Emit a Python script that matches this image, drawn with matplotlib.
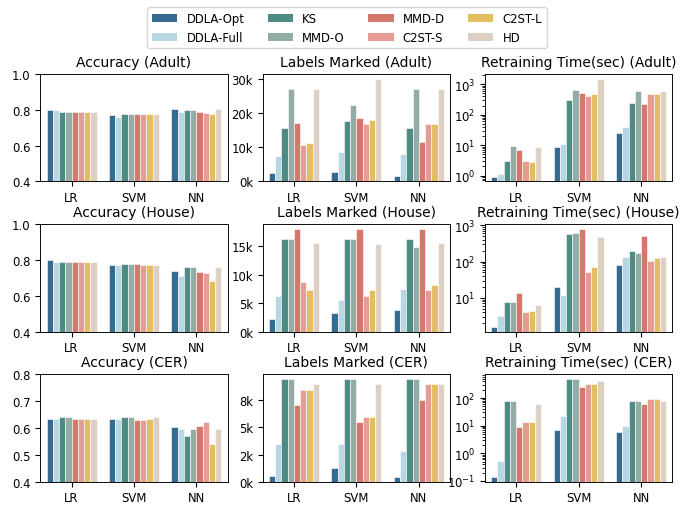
import numpy as np
import matplotlib
matplotlib.use("Agg")
from matplotlib import pyplot as plt
from matplotlib.ticker import FuncFormatter
from matplotlib.patches import Patch

# Data
methods = ['DDLA-Opt', 'DDLA-Full', 'KS', 'MMD-O', 'MMD-D', 'C2ST-S', 'C2ST-L', 'HD']
colors = ['#376a90', '#b7d8e2', '#4d8b84', '#93aca6', '#d4786d', '#e49d92', '#e2bd64', '#ddcfc2']
models = ['LR', 'SVM', 'NN']

# rows = models (LR, SVM, NN), columns = methods
acc_adult = [[0.800, 0.797, 0.787, 0.790, 0.790, 0.787, 0.790, 0.790],
             [0.768, 0.758, 0.777, 0.777, 0.777, 0.777, 0.777, 0.777],
             [0.807, 0.787, 0.800, 0.800, 0.787, 0.783, 0.777, 0.807]]
acc_house = [[0.797, 0.790, 0.787, 0.787, 0.787, 0.787, 0.790, 0.790],
             [0.773, 0.773, 0.778, 0.778, 0.778, 0.773, 0.773, 0.773],
             [0.740, 0.710, 0.763, 0.763, 0.730, 0.725, 0.682, 0.758]]
acc_cer = [[0.635, 0.635, 0.642, 0.642, 0.635, 0.635, 0.635, 0.635],
           [0.635, 0.632, 0.642, 0.642, 0.628, 0.628, 0.632, 0.642],
           [0.603, 0.597, 0.571, 0.597, 0.607, 0.622, 0.542, 0.595]]

labels_adult = [[2500, 7600, 15800, 27000, 17000, 10700, 11300, 27000],
                [2900, 8700, 17600, 22500, 18600, 16800, 18100, 30000],
                [1750, 8000, 15800, 27000, 11500, 16700, 16700, 27000]]
labels_house = [[2150, 6200, 16200, 16200, 18000, 8650, 7300, 15500],
                [3200, 5500, 16200, 16200, 18000, 6200, 7300, 15300],
                [3800, 7500, 16200, 14800, 18000, 7300, 8200, 15500]]
labels_cer = [[500, 3450, 9450, 9450, 7030, 8440, 8440, 9030],
              [1280, 3450, 9450, 9450, 5480, 5950, 5950, 9030],
              [470, 2800, 9450, 9450, 7500, 9030, 9030, 9030]]

time_adult = [[0.93, 1.16, 3.1, 9.3, 6.8, 3.1, 2.8, 8.8],
              [8.6, 11.1, 311, 650, 531, 412, 491, 1510],
              [26, 41, 243, 603, 225, 468, 491, 603]]
time_house = [[1.6, 3.2, 7.6, 7.6, 13.7, 4.0, 4.45, 6.5],
              [19.7, 11.9, 565, 612, 795, 51, 70, 475],
              [80, 136, 196, 168, 507, 105, 122, 136]]
time_cer = [[0.14, 0.53, 80, 76, 8.7, 14, 14, 60],
            [6.8, 22, 490, 490, 245, 312, 312, 400],
            [5.7, 9.5, 80, 80, 60, 89, 89, 76]]

datasets = ['Adult', 'House', 'CER']
panels = [
    [('Accuracy', acc_adult), ('Labels Marked', labels_adult), ('Retraining Time(sec)', time_adult)],
    [('Accuracy', acc_house), ('Labels Marked', labels_house), ('Retraining Time(sec)', time_house)],
    [('Accuracy', acc_cer), ('Labels Marked', labels_cer), ('Retraining Time(sec)', time_cer)],
]
acc_ylims = [(0.4, 1.0), (0.4, 1.0), (0.4, 0.8)]

plt.rcParams['font.size'] = 8.33
plt.rcParams['axes.linewidth'] = 0.67

fig, axes = plt.subplots(3, 3, figsize=(6.94, 5.06), dpi=100)
fig.subplots_adjust(left=0.058, right=0.969, top=0.852, bottom=0.046, wspace=0.186, hspace=0.395)

x = np.arange(len(models))
n = len(methods)
w = 0.8 / n

for r in range(3):
    for c in range(3):
        ax = axes[r][c]
        name, vals = panels[r][c]
        vals = np.array(vals)
        for m in range(n):
            ax.bar(x - 0.4 + w * (m + 0.5), vals[:, m], width=w, color=colors[m],
                   edgecolor='white', linewidth=0.4)
        ax.set_title(f'{name} ({datasets[r]})', fontsize=10)
        ax.set_xticks(x)
        ax.set_xticklabels(models)
        ax.set_xlim(-0.5, 2.5)
        if c == 0:
            ax.set_ylim(*acc_ylims[r])
            ax.set_yticks(np.arange(acc_ylims[r][0], acc_ylims[r][1] + 0.001, 0.2 if r < 2 else 0.1))
        elif c == 1:
            ax.yaxis.set_major_formatter(FuncFormatter(lambda v, p: '%.0fk' % (v / 1000)))
            if r == 2:
                ax.set_yticks([0, 2500, 5000, 7500])
        else:
            ax.set_yscale('log')
            lo, hi = vals.min(), vals.max()
            span = np.log10(hi) - np.log10(lo)
            ax.set_ylim(10 ** (np.log10(lo) - 0.05 * span), 10 ** (np.log10(hi) + 0.05 * span))

handles = [Patch(facecolor=colors[i], label=methods[i]) for i in range(n)]
fig.legend(handles=handles, loc='upper center', bbox_to_anchor=(0.5, 0.995), ncol=4,
           handlelength=2.2, columnspacing=2.0)

plt.savefig('out.png', dpi=100)
